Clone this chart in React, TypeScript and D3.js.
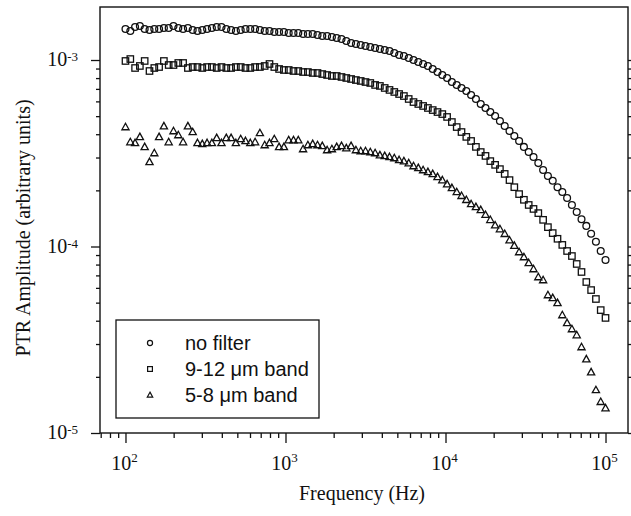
import React, { useRef, useEffect } from "react";
import * as d3 from "d3";

// frequency sweep (Hz)
const freqs = [
  100, 107.2, 114.8, 123, 131.8, 141.3, 151.4, 162.2, 173.8, 186.2, 199.5, 213.8, 229.1, 245.5, 263, 281.8, 302,
  323.6, 346.7, 371.5, 398.1, 426.6, 457.1, 489.8, 524.8, 562.3, 602.6, 645.7, 691.8, 741.3, 794.3, 851.1, 912,
  977.2, 1047, 1122, 1202, 1288, 1380, 1479, 1585, 1698, 1820, 1950, 2089, 2239, 2399, 2570, 2754, 2951, 3162,
  3388, 3631, 3890, 4169, 4467, 4786, 5129, 5495, 5888, 6310, 6761, 7244, 7762, 8318, 8913, 9550, 10230, 10960,
  11750, 12590, 13490, 14450, 15490, 16600, 17780, 19050, 20420, 21880, 23440, 25120, 26920, 28840, 30900, 33110,
  35480, 38020, 40740, 43650, 46770, 50120, 53700, 57540, 61660, 66070, 70790, 75860, 81280, 87100, 93330, 100000,
];

// PTR amplitude, in units of 1e-4
const noFilter = [
  14.66, 14.3, 15.03, 15.21, 14.66, 14.48, 14.66, 14.66, 14.84, 14.84, 15.21, 14.84, 14.66, 14.84, 14.48, 14.3,
  14.48, 14.66, 14.84, 15.03, 15.03, 14.66, 14.48, 14.3, 14.48, 14.66, 14.66, 14.66, 14.48, 14.3, 14.3, 14.13,
  14.13, 14.13, 13.96, 13.96, 13.96, 13.79, 13.79, 13.79, 13.61, 13.45, 13.45, 13.28, 13.12, 12.96, 12.64, 12.34,
  12.18, 12.04, 11.89, 11.74, 11.6, 11.46, 11.31, 11.18, 10.9, 10.64, 10.51, 10.25, 10.0, 9.76, 9.52, 9.29, 8.95,
  8.62, 8.31, 8.01, 7.62, 7.35, 7.08, 6.82, 6.49, 6.18, 5.81, 5.53, 5.26, 5.01, 4.71, 4.43, 4.16, 3.91, 3.68, 3.42,
  3.21, 3.02, 2.8, 2.57, 2.39, 2.25, 2.08, 1.96, 1.82, 1.67, 1.53, 1.4, 1.29, 1.17, 1.06, 0.946, 0.847,
];
const band912 = [
  9.88, 10.12, 9.06, 9.29, 9.88, 8.73, 9.06, 9.17, 9.88, 9.4, 9.4, 9.64, 9.64, 9.06, 9.17, 9.17, 9.06, 9.17, 9.17,
  9.06, 9.17, 9.06, 9.06, 9.17, 9.17, 9.06, 9.06, 9.17, 9.17, 9.29, 9.52, 9.17, 8.95, 8.84, 8.84, 8.73, 8.73, 8.62,
  8.62, 8.52, 8.52, 8.41, 8.31, 8.21, 8.21, 8.11, 8.01, 7.91, 7.81, 7.72, 7.62, 7.53, 7.35, 7.26, 7.08, 6.91, 6.74,
  6.57, 6.41, 6.18, 5.95, 5.81, 5.67, 5.53, 5.39, 5.26, 5.13, 4.95, 4.65, 4.37, 4.11, 3.87, 3.68, 3.42, 3.21, 3.06,
  2.87, 2.74, 2.6, 2.45, 2.27, 2.08, 1.91, 1.78, 1.67, 1.59, 1.51, 1.39, 1.27, 1.18, 1.1, 1.02, 0.946, 0.889, 0.806,
  0.73, 0.645, 0.584, 0.523, 0.456, 0.414,
];
const band58 = [
  4.37, 3.63, 3.59, 3.87, 3.42, 2.84, 3.17, 3.87, 4.42, 3.63, 4.16, 3.96, 3.63, 4.42, 4.11, 3.59, 3.55, 3.59, 3.59,
  3.82, 3.59, 3.82, 3.82, 3.59, 3.77, 3.68, 3.59, 3.63, 4.06, 3.5, 3.59, 3.77, 3.42, 3.42, 3.72, 3.72, 3.72, 3.33,
  3.5, 3.55, 3.5, 3.46, 3.29, 3.33, 3.42, 3.46, 3.37, 3.46, 3.29, 3.25, 3.25, 3.21, 3.17, 3.09, 3.06, 3.02, 2.98,
  2.91, 2.87, 2.8, 2.7, 2.64, 2.57, 2.51, 2.45, 2.36, 2.27, 2.16, 2.06, 1.96, 1.87, 1.78, 1.69, 1.63, 1.57, 1.48,
  1.39, 1.3, 1.24, 1.17, 1.08, 1.01, 0.934, 0.878, 0.816, 0.757, 0.686, 0.661, 0.549, 0.53, 0.498, 0.429, 0.389,
  0.361, 0.335, 0.289, 0.249, 0.212, 0.17, 0.147, 0.136,
];

const seriesNames = ["no filter", "9-12 \u03bcm band", "5-8 \u03bcm band"];
const xMajor = [2, 3, 4, 5];
const yMajor = [-3, -4, -5];

const W = 631;
const H = 516;
const serif = "'Liberation Serif', 'Times New Roman', serif";
const sans = "'Liberation Sans', Arial, sans-serif";

const drawMarker = (g, kind, cx, cy, s) => {
  if (kind === 0) {
    g.append("circle").attr("cx", cx).attr("cy", cy).attr("r", 3.4 * s);
  } else if (kind === 1) {
    const h = 3.2 * s;
    g.append("rect").attr("x", cx - h).attr("y", cy - h).attr("width", 2 * h).attr("height", 2 * h);
  } else {
    const a = 3.6 * s;
    g.append("path").attr(
      "d",
      `M${cx},${cy - a * 1.05}L${cx + a},${cy + a * 0.75}L${cx - a},${cy + a * 0.75}Z`
    );
  }
};

const App = () => {
  const ref = useRef(null);

  useEffect(() => {
    const svg = d3.select(ref.current);
    svg.selectAll("*").remove();

    const left = 100, right = 628, top = 7, bottom = 433;
    const x = d3.scaleLog().domain([69.3, 138200]).range([left, right]);
    const y = d3.scaleLog().domain([1e-5, 1.924e-3]).range([bottom, top]);

    const minorX = [];
    const minorY = [];
    [1, 2, 3, 4].forEach((e) => {
      for (let m = 2; m <= 9; m++) {
        const v = m * Math.pow(10, e);
        if (v >= 69.3 && v <= 138200) minorX.push(v);
      }
    });
    [-5, -4, -3].forEach((e) => {
      for (let m = 2; m <= 9; m++) {
        const v = m * Math.pow(10, e);
        if (v <= 1.924e-3) minorY.push(v);
      }
    });
    const majX = xMajor.map((e) => Math.pow(10, e));
    const majY = yMajor.map((e) => Math.pow(10, e));

    const axisStyle = (g) => {
      g.select(".domain").remove();
      g.selectAll("line").attr("stroke", "#111").attr("stroke-width", 1.3);
    };

    // ticks
    svg.append("g").attr("transform", `translate(${left},0)`)
      .call(d3.axisLeft(y).tickValues(minorY).tickSize(4).tickFormat(() => "")).call(axisStyle);
    svg.append("g").attr("transform", `translate(${left},0)`)
      .call(d3.axisLeft(y).tickValues(majY).tickSize(9).tickFormat(() => "")).call(axisStyle);
    svg.append("g").attr("transform", `translate(${right},0)`)
      .call(d3.axisRight(y).tickValues(minorY.concat(majY)).tickSize(4).tickFormat(() => "")).call(axisStyle);
    svg.append("g").attr("transform", `translate(0,${bottom})`)
      .call(d3.axisBottom(x).tickValues(minorX).tickSize(5).tickFormat(() => "")).call(axisStyle);
    svg.append("g").attr("transform", `translate(0,${bottom})`)
      .call(d3.axisBottom(x).tickValues(majX).tickSize(10).tickFormat(() => "")).call(axisStyle);

    // frame
    svg.append("rect")
      .attr("x", left).attr("y", top).attr("width", right - left).attr("height", bottom - top)
      .attr("fill", "none").attr("stroke", "#111").attr("stroke-width", 1.4);

    // tick labels
    xMajor.forEach((e) => {
      const t = svg.append("text")
        .attr("x", x(Math.pow(10, e)) - 1).attr("y", 470)
        .attr("text-anchor", "middle").attr("font-family", serif).attr("font-size", 20).attr("fill", "#111");
      t.append("tspan").text("10");
      t.append("tspan").attr("dy", -8).attr("font-size", 13).text(String(e));
    });
    yMajor.forEach((e) => {
      const t = svg.append("text")
        .attr("x", 78).attr("y", y(Math.pow(10, e)) + 6)
        .attr("text-anchor", "end").attr("font-family", serif).attr("font-size", 20).attr("fill", "#111");
      t.append("tspan").text("10");
      t.append("tspan").attr("dy", -5).attr("font-size", 13).text(String(e));
    });

    // axis titles
    svg.append("text")
      .attr("x", 362).attr("y", 500).attr("text-anchor", "middle")
      .attr("font-family", serif).attr("font-size", 20).attr("fill", "#111")
      .text("Frequency (Hz)");
    svg.append("text")
      .attr("transform", `translate(30,228) rotate(-90)`).attr("text-anchor", "middle")
      .attr("font-family", serif).attr("font-size", 20).attr("fill", "#111")
      .text("PTR Amplitude (arbitrary units)");

    // data markers
    const series = [noFilter, band912, band58];
    series.forEach((vals, k) => {
      const g = svg.append("g").attr("fill", "none").attr("stroke", "#111").attr("stroke-width", 1.3);
      vals.forEach((v, i) => drawMarker(g, k, x(freqs[i]), y(v * 1e-4), 1));
    });

    // legend
    const lg = svg.append("g");
    lg.append("rect")
      .attr("x", 116).attr("y", 320).attr("width", 203).attr("height", 98)
      .attr("fill", "#fff").attr("stroke", "#111").attr("stroke-width", 1.3);
    seriesNames.forEach((name, k) => {
      const cy = 343 + k * 26;
      const mg = lg.append("g").attr("fill", "none").attr("stroke", "#111").attr("stroke-width", 1.2);
      drawMarker(mg, k, 150, cy, 0.75);
      lg.append("text")
        .attr("x", 185).attr("y", cy + 7)
        .attr("font-family", sans).attr("font-size", 20).attr("fill", "#111")
        .text(name);
    });
  }, []);

  return (
    <svg
      ref={ref}
      width={W}
      height={H}
      style={{ position: "absolute", left: 0, top: 0, background: "#fff" }}
    />
  );
};

export default App;
